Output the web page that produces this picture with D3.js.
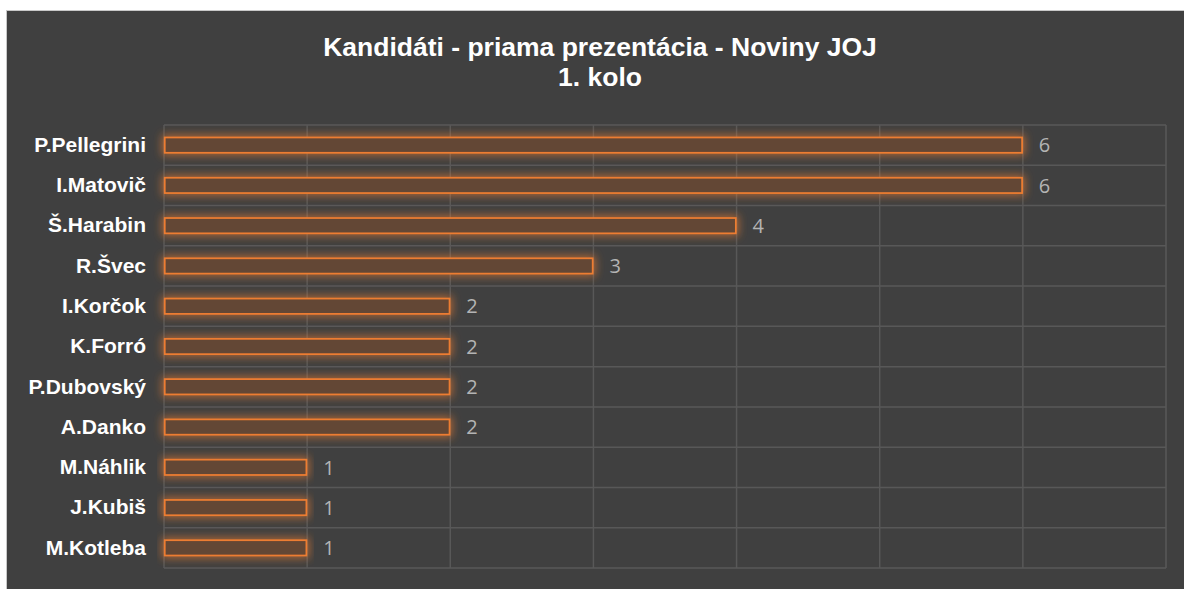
<!DOCTYPE html>
<html>
<head>
<meta charset="utf-8">
<script src="https://cdn.jsdelivr.net/npm/d3@7"></script>
<style>
  body { margin: 0; background: #fff; }
  svg { display: block; }
</style>
</head>
<body>
<svg id="chart" width="1184" height="589"></svg>
<script>
// data
const candidates = ["P.Pellegrini", "I.Matovič", "Š.Harabin", "R.Švec", "I.Korčok", "K.Forró",
  "P.Dubovský", "A.Danko", "M.Náhlik", "J.Kubiš", "M.Kotleba"];
const votes = [6, 6, 4, 3, 2, 2, 2, 2, 1, 1, 1];
const xTicks = [0, 1, 2, 3, 4, 5, 6, 7];
const titleLines = ["Kandidáti - priama prezentácia - Noviny JOJ", "1. kolo"];

const svg = d3.select("#chart");

// chart background
svg.append("rect")
  .attr("x", 6.5).attr("y", 10.5)
  .attr("width", 1184).attr("height", 600)
  .style("fill", "#404040")
  .style("stroke", "#c8c8c8")
  .style("stroke-width", 1);

// glow filter
const defs = svg.append("defs");
const glow = defs.append("filter").attr("id", "glow")
  .attr("x", "-5%").attr("y", "-120%").attr("width", "110%").attr("height", "340%");
glow.append("feMorphology").attr("in", "SourceAlpha").attr("operator", "dilate").attr("radius", 2).attr("result", "fat");
glow.append("feGaussianBlur").attr("in", "fat").attr("stdDeviation", 4).attr("result", "blur");
glow.append("feFlood").attr("flood-color", "#ed7d31").attr("flood-opacity", 0.6);
glow.append("feComposite").attr("in2", "blur").attr("operator", "in").attr("result", "glowC");
const merge = glow.append("feMerge");
merge.append("feMergeNode").attr("in", "glowC");
merge.append("feMergeNode").attr("in", "SourceGraphic");

// title
svg.append("text")
  .attr("x", 600).attr("y", 56)
  .attr("text-anchor", "middle")
  .style("font-family", "'Liberation Sans', Arial, sans-serif")
  .style("font-weight", "bold")
  .style("font-size", "26.5px")
  .style("fill", "#fff")
  .selectAll("tspan")
  .data(titleLines)
  .enter()
  .append("tspan")
  .attr("x", 600)
  .attr("dy", (d, i) => i === 0 ? 0 : 30)
  .text(d => d);

// scales
const plot = { left: 164, right: 1166, top: 125, bottom: 568 };
const xScale = d3.scaleLinear().domain([0, 7]).range([plot.left, plot.right]);
const yScale = d3.scaleBand().domain(candidates).range([plot.top, plot.bottom]).paddingInner(0.62).paddingOuter(0.31);
const rowScale = d3.scaleBand().domain(candidates).range([plot.top, plot.bottom]);

// grid
const grid = svg.append("g").attr("class", "grid");
grid.selectAll(".vline")
  .data(xTicks)
  .enter()
  .append("line")
  .attr("x1", d => xScale(d)).attr("x2", d => xScale(d))
  .attr("y1", plot.top).attr("y2", plot.bottom)
  .style("stroke", "#585858").style("stroke-width", 1.5);
grid.selectAll(".hline")
  .data(candidates.concat(["__end"]))
  .enter()
  .append("line")
  .attr("x1", plot.left).attr("x2", plot.right)
  .attr("y1", d => d === "__end" ? plot.bottom : rowScale(d))
  .attr("y2", d => d === "__end" ? plot.bottom : rowScale(d))
  .style("stroke", "#585858").style("stroke-width", 1.5);

// bars
svg.selectAll(".bar")
  .data(candidates)
  .enter()
  .append("rect")
  .attr("class", "bar")
  .attr("x", xScale(0) + 0.75)
  .attr("y", d => yScale(d))
  .attr("width", (d, i) => xScale(votes[i]) - xScale(0) - 1.5)
  .attr("height", yScale.bandwidth())
  .style("fill", "#634634")
  .style("stroke", "#ed7d31")
  .style("stroke-width", 1.75)
  .attr("filter", "url(#glow)");

// value labels
svg.selectAll(".val")
  .data(candidates)
  .enter()
  .append("text")
  .attr("x", (d, i) => xScale(votes[i]) + 16)
  .attr("y", d => yScale(d) + yScale.bandwidth() / 2)
  .attr("dy", "0.36em")
  .style("font-family", "'Open Sans', sans-serif")
  .style("font-size", "20px")
  .style("fill", "#b4b4b4")
  .text((d, i) => votes[i]);

// category labels
const yAxis = d3.axisLeft(yScale).tickSize(0).tickPadding(18);
svg.append("g")
  .attr("transform", `translate(${plot.left}, 0)`)
  .call(yAxis)
  .call(g => g.select(".domain").remove())
  .selectAll("text")
  .style("font-family", "'Liberation Sans', Arial, sans-serif")
  .style("font-weight", "bold")
  .style("font-size", "21px")
  .style("fill", "#fff");
</script>
</body>
</html>
